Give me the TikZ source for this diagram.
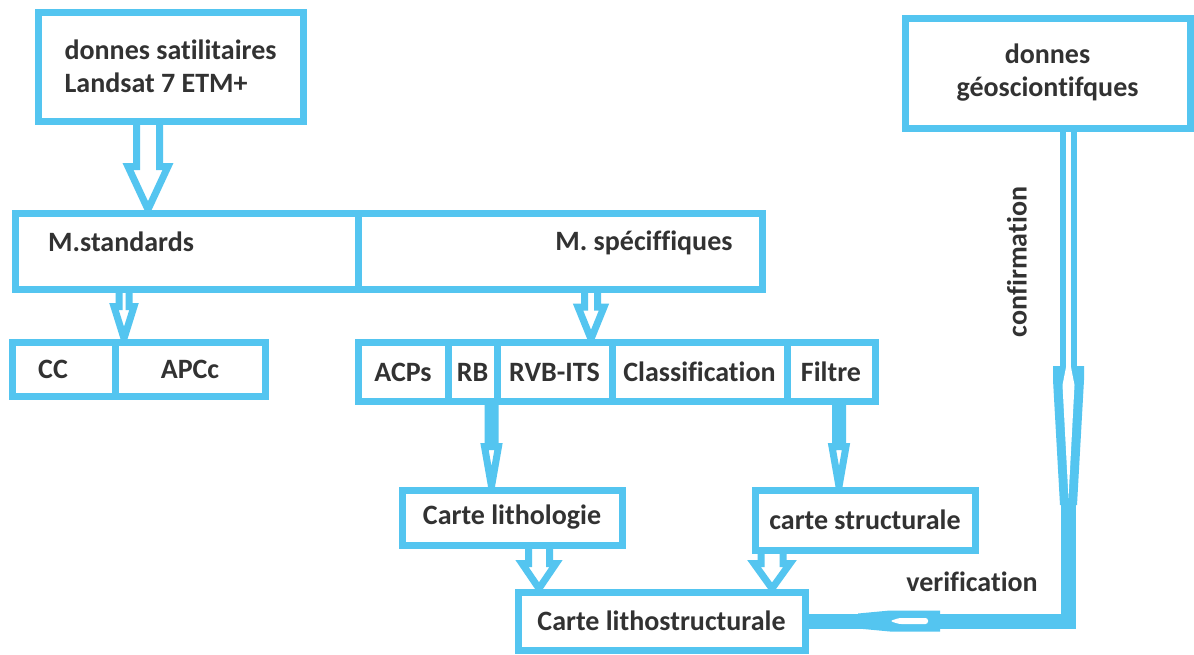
\documentclass[tikz,border=0pt]{standalone}
\usepackage{fontspec}
\setmainfont{Carlito}[Ligatures=NoCommon]
\usetikzlibrary{calc}
\definecolor{bl}{RGB}{84,197,240}
\definecolor{tx}{RGB}{50,50,50}
\pgfdeclarelayer{back}
\pgfdeclarelayer{bg}
\pgfsetlayers{back,bg,main}
\tikzset{
  box/.style 2 args={draw=bl, line width=7, fill=white, inner sep=0,
    minimum width=#1, minimum height=#2, text=tx, align=left,
    font=\fontsize{28}{33}\selectfont\bfseries},
  lbl/.style={inner sep=0, text=tx, font=\fontsize{28}{33}\selectfont\bfseries},
  harrow/.style n args={3}{draw=bl, line width=7, fill=white, line join=miter,
    to path={let \p1=(\tikztostart), \p2=(\tikztotarget) in
      (\x1-#1pt,\y1) -- (\x1-#1pt,\y2+#3pt) -- (\x1-#2pt,\y2+#3pt) -- (\x1,\y2)
      -- (\x1+#2pt,\y2+#3pt) -- (\x1+#1pt,\y2+#3pt) -- (\x1+#1pt,\y1)}},
  vline/.style={draw=bl, line width=15, line join=miter},
  dline/.style={draw=bl, line width=6.5, double=white, double distance=4.5}
}
\begin{document}
\begin{tikzpicture}[x=1pt,y=-1pt]
\begin{pgfonlayer}{back}
\fill[white] (0,0) rectangle (1194,654);
\end{pgfonlayer}
\useasboundingbox (0,0) rectangle (1194,654);
% top boxes
\node[box={265}{109}] (sat) at (170.5,66.5) {donnes satilitaires\\Landsat 7 ETM+};
\node[box={285}{110}, align=center] (geo) at (1047.5,73) {donnes\\géosciontifques};
% method row
\node[box={343}{76}] (mstd) at (186.5,251) {};
\node[box={404}{76}] (mspe) at (560,251) {};
\node[lbl, anchor=west] (mstdT) at (48,242) {M.standards};
\node[lbl] (mspeT) at (644,243) {M. spéciffiques};
% standard row
\node[box={103}{54}] (cc) at (63.5,369) {};
\node[lbl, anchor=west] (ccT) at (38,369) {CC};
\node[box={150}{54}] (apcc) at (190,369) {APCc};
% specific row
\node[box={90}{59}] (acps) at (403,372) {ACPs};
\node[box={49}{59}] (rb) at (472.5,372) {RB};
\node[box={115}{59}] (rvb) at (554.5,372) {RVB-ITS};
\node[box={175}{59}] (cls) at (699.5,372) {Classification};
\node[box={88}{59}] (fil) at (831,372) {Filtre};
% maps
\node[box={220}{55}] (lith) at (512,517.5) {Carte lithologie};
\node[box={220}{60}] (struct) at (865,520) {carte structurale};
\node[box={287}{58}] (lstr) at (661.5,621) {Carte lithostructurale};
% labels
\node[lbl, rotate=90] (conf) at (1017,262) {confirmation};
\node[lbl] (verif) at (972,582) {verification};
\coordinate (vc) at (1068.5,621);
\coordinate (vt) at (1068.5,495);
\coordinate (vh) at (1068.5,368);
\begin{pgfonlayer}{bg}
\draw[harrow={11.5}{20}{43}] ([xshift=-22.5]sat.south) to (mstd.north);
\draw[harrow={5}{10}{32}] ([xshift=-62.5]mstd.south) to (cc.north);
\draw[harrow={6.5}{13}{32}] ([xshift=31]mspe.south) to (rvb.north);
\draw[harrow={3.5}{7}{40}] ([xshift=19]rb.south) to (lith.north);
\draw[harrow={3.5}{7}{40}] ([xshift=8]fil.south) to (struct.north);
\draw[harrow={10.5}{17}{25}] ([xshift=27]lith.south) to (lstr.north);
\draw[harrow={11}{18}{25}] ([xshift=-93]struct.south) to (lstr.north);
% verification / confirmation connector
\draw[vline] (lstr.east) -- (vc) -- (vt);
\draw[dline] (geo.south -| vc) -- (vh);
\fill[bl] (1053,366) -- (1084,366) -- (1084,380) -- (1077,505) -- (1060,505) -- (1053,380) -- cycle;
\fill[white] (1066.25,366) -- (1070.75,366) -- (1074.5,385) -- (1068.5,498) -- (1062.5,385) -- cycle;
\fill[bl] (858,613.5) -- (890,610.5) -- (940,610.5) -- (940,631.5) -- (890,631.5) -- (858,628.5) -- cycle;
\fill[white, rounded corners=2.5] (890,621) -- (899,618) -- (928,618) -- (928,624) -- (899,624) -- cycle;
\end{pgfonlayer}
\end{tikzpicture}
\end{document}
